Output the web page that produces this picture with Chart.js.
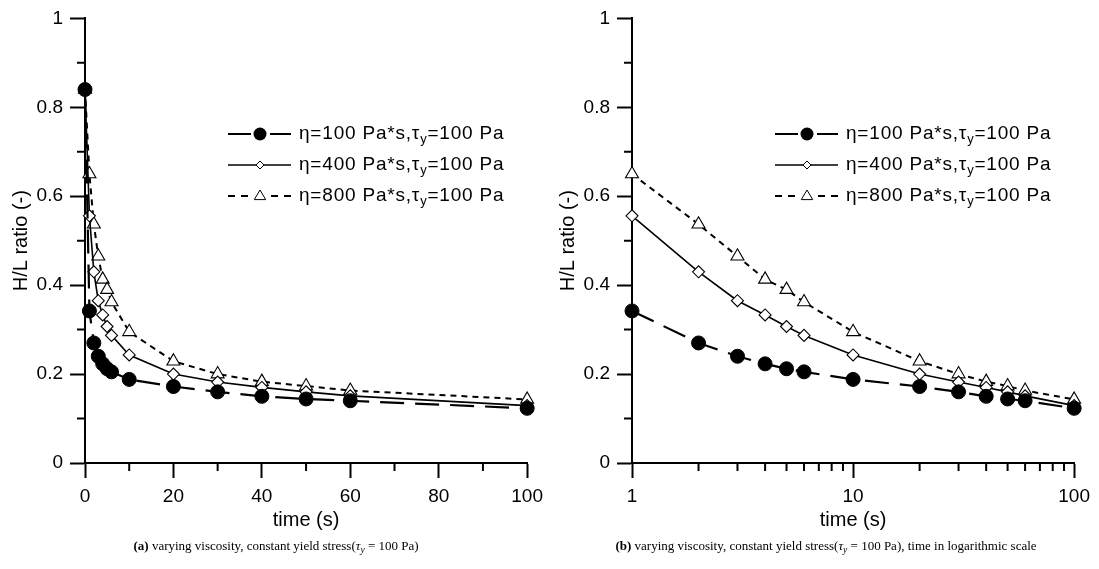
<!DOCTYPE html>
<html><head><meta charset="utf-8">
<script src="https://cdn.jsdelivr.net/npm/chart.js@4.4.0/dist/chart.umd.min.js"></script>
<style>
html,body{margin:0;padding:0;background:#fff}
body{width:1099px;height:569px;overflow:hidden;position:relative;font-family:"Liberation Sans",Arial,sans-serif}
.wrap{position:absolute;top:0;width:550px;height:540px}
#w1{left:0}
#w2{left:547px}
.cap{position:absolute;top:538px;font-family:"Liberation Serif","Times New Roman",serif;font-size:13px;white-space:nowrap;transform:translateX(-50%);color:#000}
.cap i{font-style:italic}
.cap sub{font-size:9.5px;vertical-align:-3px}
</style></head>
<body>
<div class="wrap" id="w1"><canvas id="c1" width="550" height="540" style="width:550px;height:540px"></canvas></div>
<div class="wrap" id="w2"><canvas id="c2" width="550" height="540" style="width:550px;height:540px"></canvas></div>
<div class="cap" style="left:276px"><b>(a)</b> varying viscosity, constant yield stress(<i>τ</i><sub><i>y</i></sub> = 100 Pa)</div>
<div class="cap" style="left:826px"><b>(b)</b> varying viscosity, constant yield stress(<i>τ</i><sub><i>y</i></sub> = 100 Pa), time in logarithmic scale</div>
<script>
// ---- data ----
const timeLinear = [0, 1, 2, 3, 4, 5, 6, 10, 20, 30, 40, 50, 60, 100];
const eta100 = [0.84, 0.342, 0.27, 0.24, 0.223, 0.212, 0.205, 0.188, 0.172, 0.16, 0.15, 0.144, 0.14, 0.123];
const eta400 = [0.84, 0.556, 0.43, 0.365, 0.333, 0.307, 0.287, 0.243, 0.2, 0.182, 0.17, 0.16, 0.151, 0.129];
const eta800 = [0.84, 0.65, 0.537, 0.465, 0.413, 0.39, 0.362, 0.295, 0.229, 0.2, 0.183, 0.173, 0.163, 0.143];
const seriesNames = ['η=100 Pa*s,τ', 'η=400 Pa*s,τ', 'η=800 Pa*s,τ'];
const nameSub = 'y';
const nameTail = '=100 Pa';
const yMajorTicks = [0, 0.2, 0.4, 0.6, 0.8, 1];
const yMinorTicks = [0.1, 0.3, 0.5, 0.7, 0.9];
const xLinMajorTicks = [0, 20, 40, 60, 80, 100];
const xLinMinorTicks = [10, 30, 50, 70, 90];
const xLogMajorTicks = [1, 10, 100];
const xLogMinorTicks = [2, 3, 4, 5, 6, 7, 8, 9, 20, 30, 40, 50, 60, 70, 80, 90];

const FONT = '"Liberation Sans", Arial, sans-serif';

function pts(xs, ys, skipZero) {
  const out = [];
  xs.forEach((x, i) => { if (!(skipZero && x <= 0)) out.push({x: x, y: ys[i]}); });
  return out;
}

function makeDatasets(logX) {
  return [
    {label: seriesNames[0], data: pts(timeLinear, eta100, logX), borderColor: '#000', borderWidth: 2.2,
     borderDash: [24, 11], pointStyle: 'circle', pointRadius: 7, pointBackgroundColor: '#000',
     pointBorderColor: '#000', pointBorderWidth: 1, clip: false, tension: 0},
    {label: seriesNames[1], data: pts(timeLinear, eta400, logX), borderColor: '#000', borderWidth: 1.6,
     pointStyle: 'rectRot', pointRadius: 6, pointBackgroundColor: '#fff',
     pointBorderColor: '#000', pointBorderWidth: 1.1, clip: false, tension: 0},
    {label: seriesNames[2], data: pts(timeLinear, eta800, logX), borderColor: '#000', borderWidth: 2,
     borderDash: [6, 5], pointStyle: 'triangle', pointRadius: 7.5, pointBackgroundColor: '#fff',
     pointBorderColor: '#000', pointBorderWidth: 1.1, clip: false, tension: 0}
  ];
}

const minorTickPlugin = {
  id: 'minorTicks',
  afterDraw(chart, args, opts) {
    const ctx = chart.ctx;
    const xs = chart.scales.x, ys = chart.scales.y;
    ctx.save();
    ctx.strokeStyle = '#000';
    ctx.lineWidth = 2;
    ctx.beginPath();
    (opts.x || []).forEach(v => {
      const px = xs.getPixelForValue(v);
      ctx.moveTo(px, xs.top); ctx.lineTo(px, xs.top + 8);
    });
    (opts.y || []).forEach(v => {
      const py = ys.getPixelForValue(v);
      ctx.moveTo(ys.right, py); ctx.lineTo(ys.right - 8, py);
    });
    ctx.stroke();
    ctx.restore();
  }
};

const legendPlugin = {
  id: 'customLegend',
  afterDatasetsDraw(chart) {
    const ctx = chart.ctx;
    const a = chart.chartArea;
    const x0 = a.left + 143, x1 = a.left + 206, cx = a.left + 175, xt = a.left + 214;
    const rows = [134, 165, 196];
    ctx.save();
    ctx.strokeStyle = '#000'; ctx.fillStyle = '#000';
    rows.forEach((y, i) => {
      ctx.beginPath();
      ctx.lineWidth = i === 1 ? 1.6 : 2;
      if (i === 0) {
        ctx.moveTo(x0, y); ctx.lineTo(x0 + 23, y);
        ctx.moveTo(x1 - 21, y); ctx.lineTo(x1, y);
        ctx.stroke();
        ctx.beginPath(); ctx.arc(cx, y, 6.5, 0, Math.PI * 2); ctx.fill();
      } else if (i === 1) {
        ctx.moveTo(x0, y); ctx.lineTo(x1, y); ctx.stroke();
        ctx.beginPath();
        const r = 4;
        ctx.moveTo(cx - r, y); ctx.lineTo(cx, y - r); ctx.lineTo(cx + r, y); ctx.lineTo(cx, y + r); ctx.closePath();
        ctx.fillStyle = '#fff'; ctx.fill(); ctx.lineWidth = 1; ctx.stroke(); ctx.fillStyle = '#000';
      } else {
        ctx.setLineDash([7, 6]);
        ctx.moveTo(x0, y); ctx.lineTo(x0 + 21, y);
        ctx.moveTo(x1 - 20, y); ctx.lineTo(x1, y);
        ctx.stroke();
        ctx.setLineDash([]);
        ctx.beginPath();
        const r = 6;
        ctx.moveTo(cx, y - r); ctx.lineTo(cx + r * 0.95, y + r * 0.6); ctx.lineTo(cx - r * 0.95, y + r * 0.6); ctx.closePath();
        ctx.fillStyle = '#fff'; ctx.fill(); ctx.lineWidth = 1; ctx.stroke(); ctx.fillStyle = '#000';
      }
      // text
      ctx.textBaseline = 'middle';
      ctx.textAlign = 'left';
      if ('letterSpacing' in ctx) ctx.letterSpacing = '0.8px';
      ctx.font = '19px ' + FONT;
      const t1 = seriesNames[i];
      ctx.fillText(t1, xt, y);
      let w = ctx.measureText(t1).width;
      ctx.font = '13px ' + FONT;
      ctx.fillText(nameSub, xt + w, y + 5);
      w += ctx.measureText(nameSub).width;
      ctx.font = '19px ' + FONT;
      ctx.fillText(nameTail, xt + w, y);
      if ('letterSpacing' in ctx) ctx.letterSpacing = '0px';
    });
    ctx.restore();
  }
};

function makeChart(id, logX) {
  const xMajors = logX ? xLogMajorTicks : xLinMajorTicks;
  return new Chart(document.getElementById(id), {
    type: 'line',
    data: {datasets: makeDatasets(logX)},
    options: {
      responsive: false,
      animation: false,
      layout: {padding: {top: 17, right: logX ? 21 : 19, bottom: 0, left: 0}},
      plugins: {
        legend: {display: false}, tooltip: {enabled: false},
        minorTicks: {x: logX ? xLogMinorTicks : xLinMinorTicks, y: yMinorTicks}
      },
      scales: {
        x: {
          type: logX ? 'logarithmic' : 'linear',
          min: logX ? 1 : 0, max: 100,
          afterBuildTicks: s => { s.ticks = xMajors.map(v => ({value: v})); },
          afterFit: s => { s.height = 77; },
          ticks: {color: '#000', font: {family: FONT, size: 19}, padding: 7, maxRotation: 0, autoSkip: false,
                  callback: v => String(v)},
          grid: {display: true, drawOnChartArea: false, drawTicks: true, tickLength: 15, tickWidth: 2, tickColor: '#000', color: '#000'},
          border: {display: true, color: '#000', width: 2},
          title: {display: true, text: 'time (s)', color: '#000', font: {family: FONT, size: 20}, padding: {top: 0, bottom: 8}}
        },
        y: {
          type: 'linear', min: 0, max: 1,
          afterBuildTicks: s => { s.ticks = yMajorTicks.map(v => ({value: v})); },
          afterFit: s => { s.width = 85; },
          ticks: {color: '#000', font: {family: FONT, size: 19}, padding: 7, callback: v => String(v)},
          grid: {display: true, drawOnChartArea: false, drawTicks: true, tickLength: 15, tickWidth: 2, tickColor: '#000', color: '#000'},
          border: {display: true, color: '#000', width: 2},
          title: {display: true, text: 'H/L ratio (-)', color: '#000', font: {family: FONT, size: 20}, padding: {top: 9, bottom: 0}}
        }
      }
    },
    plugins: [minorTickPlugin, legendPlugin]
  });
}

makeChart('c1', false);
makeChart('c2', true);
</script>
</body></html>
